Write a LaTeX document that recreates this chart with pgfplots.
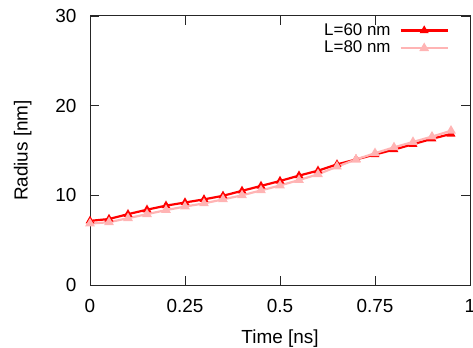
\documentclass[border=0pt]{standalone}
\usepackage{fontspec}
\setmainfont{Liberation Sans}
\usepackage{pgfplots}
\pgfplotsset{compat=1.18}
\definecolor{cA}{RGB}{255,0,0}
\definecolor{cB}{RGB}{255,180,180}
\begin{document}
\fontsize{19}{22}\selectfont
\begin{tikzpicture}
\begin{axis}[name=ax,
  width=380bp, height=269bp, scale only axis,
  xmin=0, xmax=1, ymin=0, ymax=30,
  xtick={0,0.25,0.5,0.75,1}, xticklabels={0,0.25,0.5,0.75,1},
  ytick={0,10,20,30}, yticklabels={0,10,20,30},
  tick align=inside, major tick length=9bp,
  tick style={line width=0.8pt, black!85},
  axis line style={line width=1pt, black!85},
  xticklabel style={yshift=-8bp},
  yticklabel style={xshift=-7bp},
  xlabel={Time [ns]}, ylabel={Radius [nm]},
  xlabel style={yshift=-4bp},
  ylabel style={yshift=11bp},
  legend style={draw=none, fill=none, at={(1,1)}, anchor=north east,
    xshift=-18bp, yshift=-3bp, row sep=-1bp,
    font=\fontsize{17}{19}\selectfont,
    /tikz/every odd column/.append style={column sep=7bp}},
  legend plot pos=right, legend cell align=right,
  legend image code/.code={\draw[mark repeat=2, mark phase=2] plot coordinates {(0bp,0bp) (23.5bp,0bp) (47bp,0bp)};},
]
\addplot[cA, line width=2.2pt, mark=triangle*, mark size=3bp, mark options={solid}] coordinates {
(0,7.15) (0.05,7.36) (0.1,7.9) (0.15,8.4) (0.2,8.85) (0.25,9.2) (0.3,9.55) (0.35,9.95) (0.4,10.5) (0.45,11.05) (0.5,11.6) (0.55,12.2) (0.6,12.75) (0.65,13.45) (0.7,14.0) (0.75,14.55) (0.8,15.1) (0.85,15.7) (0.9,16.3) (0.95,16.85)};
\addlegendentry{L=60 nm}
\addplot[cB, line width=2.2pt, mark=triangle*, mark size=3.5bp, mark options={solid}] coordinates {
(0,6.85) (0.05,7.0) (0.1,7.45) (0.15,7.9) (0.2,8.35) (0.25,8.75) (0.3,9.1) (0.35,9.55) (0.4,10.0) (0.45,10.55) (0.5,11.1) (0.55,11.7) (0.6,12.35) (0.65,13.2) (0.7,14.0) (0.75,14.7) (0.8,15.35) (0.85,15.95) (0.9,16.55) (0.95,17.2)};
\addlegendentry{L=80 nm}
\end{axis}
\pgfresetboundingbox
\path ([xshift=-90bp,yshift=-63bp]ax.south west) rectangle ([xshift=3bp,yshift=16bp]ax.north east);
\end{tikzpicture}
\end{document}
